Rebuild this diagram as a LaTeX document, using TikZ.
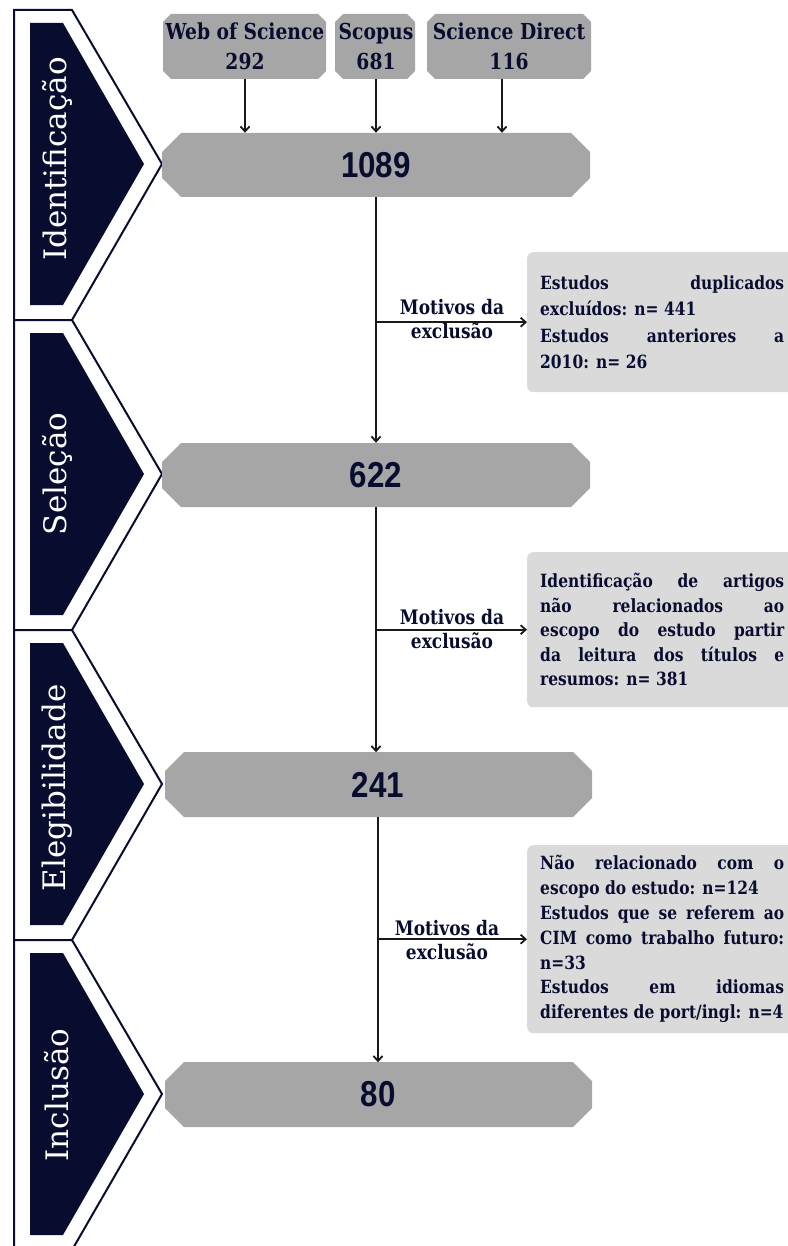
\documentclass[tikz,border=0pt]{standalone}
\usepackage{fontspec}
\setmainfont{DejaVu Serif}[FakeStretch=0.85]
\newfontfamily\chevfont{DejaVu Serif}
\newfontfamily\numfont{Liberation Sans}[FakeStretch=0.87]
\usetikzlibrary{arrows.meta}
\definecolor{navy}{RGB}{8,13,48}
\definecolor{boxgray}{RGB}{166,166,166}
\definecolor{exgray}{RGB}{218,218,218}
\definecolor{linecol}{RGB}{25,25,25}
\newlength\jw
\setlength\jw{244pt}
\newcommand\jl[1]{\makebox[\jw][s]{#1}}
\newcommand\lline[1]{\makebox[\jw][l]{#1}}
\newcommand\chambox[6]{%
  \fill[#1] ({#2+#6},#3) -- ({#4-#6},#3) -- (#4,{#3+#6}) -- (#4,{#5-#6}) --
  ({#4-#6},#5) -- ({#2+#6},#5) -- (#2,{#5-#6}) -- (#2,{#3+#6}) -- cycle;}
\begin{document}
\begin{tikzpicture}[x=1pt,y=-1pt,
  outerch/.style={draw=navy,line width=2pt,fill=white,line join=miter},
  innerch/.style={fill=navy},
  chevlabel/.style={rotate=90,text=white,font=\chevfont\fontsize{31}{33}\selectfont,inner sep=0pt},
  srctext/.style={text=navy,font=\bfseries\fontsize{22}{30}\selectfont,align=center,
    minimum width=#1,minimum height=65pt,inner sep=0pt},
  numtext/.style={text=navy,font=\numfont\bfseries\fontsize{36}{40}\selectfont,
    minimum width=428pt,minimum height=64pt,inner sep=0pt},
  exbox/.style={fill=exgray,rounded corners=6pt,anchor=north west,inner xsep=13pt,
    inner ysep=0pt,align=left,text=navy,minimum height=#1},
  motivo/.style={text=navy,font=\bfseries\fontsize{20}{23.5}\selectfont,align=center,inner sep=0pt},
  arr/.style={draw=linecol,line width=1.8pt,-{Straight Barb[length=5pt,width=9pt]}},
]
\useasboundingbox (0,0) rectangle (787,1246);

% phase chevrons
\foreach \y/\lab/\i/\ly in {10/Identificação/1/159,320/Seleção/2/474,630/Elegibilidade/3/788,940/Inclusão/4/1095}{
  \draw[outerch] (14,\y) -- (72,\y) -- (162,{\y+154}) -- (72,{\y+310}) -- (14,{\y+310}) -- cycle;
  \fill[innerch] (30,{\y+13}) -- (63,{\y+13}) -- (144,{\y+154}) -- (63,{\y+295}) -- (30,{\y+295}) -- cycle;
  \node[chevlabel] (lab\i) at (57,\ly) {\lab};
}

% source boxes
\chambox{boxgray}{163}{14}{326}{79}{8}
\node[srctext=163pt] (wos) at (245,46.5) {Web of Science\\292};
\chambox{boxgray}{335}{14}{415}{79}{8}
\node[srctext=80pt] (scop) at (376,46.5) {Scopus\\681};
\chambox{boxgray}{427}{14}{591}{79}{8}
\node[srctext=164pt] (sd) at (509,46.5) {Science Direct\\116};

% number boxes
\chambox{boxgray}{162}{133}{590}{197}{19}
\node[numtext] (n1) at (376,165) {1089};
\chambox{boxgray}{162}{443}{590}{507}{19}
\node[numtext] (n2) at (376,475) {622};
\chambox{boxgray}{165}{752}{592}{817}{19}
\node[numtext] (n3) at (378,784.5) {241};
\chambox{boxgray}{165}{1062}{592}{1127}{19}
\node[numtext] (n4) at (378,1094.5) {80};

% exclusion boxes
\node[exbox=140pt,font=\bfseries\fontsize{18.2}{26.5}\selectfont] (ex1) at (527,252) {%
\jl{Estudos duplicados}\\
\lline{excluídos: n= 441}\\
\jl{Estudos anteriores a}\\
\lline{2010: n= 26}};
\node[exbox=155pt,font=\bfseries\fontsize{18.2}{24.4}\selectfont] (ex2) at (527,552) {%
\jl{Identificação de artigos}\\
\jl{não relacionados ao}\\
\jl{escopo do estudo partir}\\
\jl{da leitura dos títulos e}\\
\lline{resumos: n= 381}};
\node[exbox=188pt,font=\bfseries\fontsize{18.2}{24.8}\selectfont] (ex3) at (527,845) {%
\jl{Não relacionado com o}\\
\lline{escopo do estudo: n=124}\\
\jl{Estudos que se referem ao}\\
\jl{CIM como trabalho futuro:}\\
\lline{n=33}\\
\jl{Estudos em idiomas}\\
\lline{diferentes de port/ingl: n=4}};

% labels
\node[motivo] (m1) at (452,319) {Motivos da\\exclusão};
\node[motivo] (m2) at (452,629) {Motivos da\\exclusão};
\node[motivo] (m3) at (447,940) {Motivos da\\exclusão};

% connectors
\draw[arr] (wos.south) -- (wos.south |- n1.north);
\draw[arr] (scop.south) -- (scop.south |- n1.north);
\draw[arr] ([xshift=-7pt]sd.south) -- ([xshift=-7pt]sd.south |- n1.north);
\draw[arr] (n1.south) -- (n2.north);
\draw[arr] (n2.south) -- (n2.south |- n3.north);
\draw[arr] (n3.south) -- (n4.north);
\coordinate (b1) at (n1.south |- ex1.west);
\coordinate (b2) at (n2.south |- ex2.west);
\coordinate (b3) at (n3.south |- ex3.west);
\draw[arr] (b1) -- (ex1.west);
\draw[arr] (b2) -- (ex2.west);
\draw[arr] (b3) -- (ex3.west);
\end{tikzpicture}
\end{document}
